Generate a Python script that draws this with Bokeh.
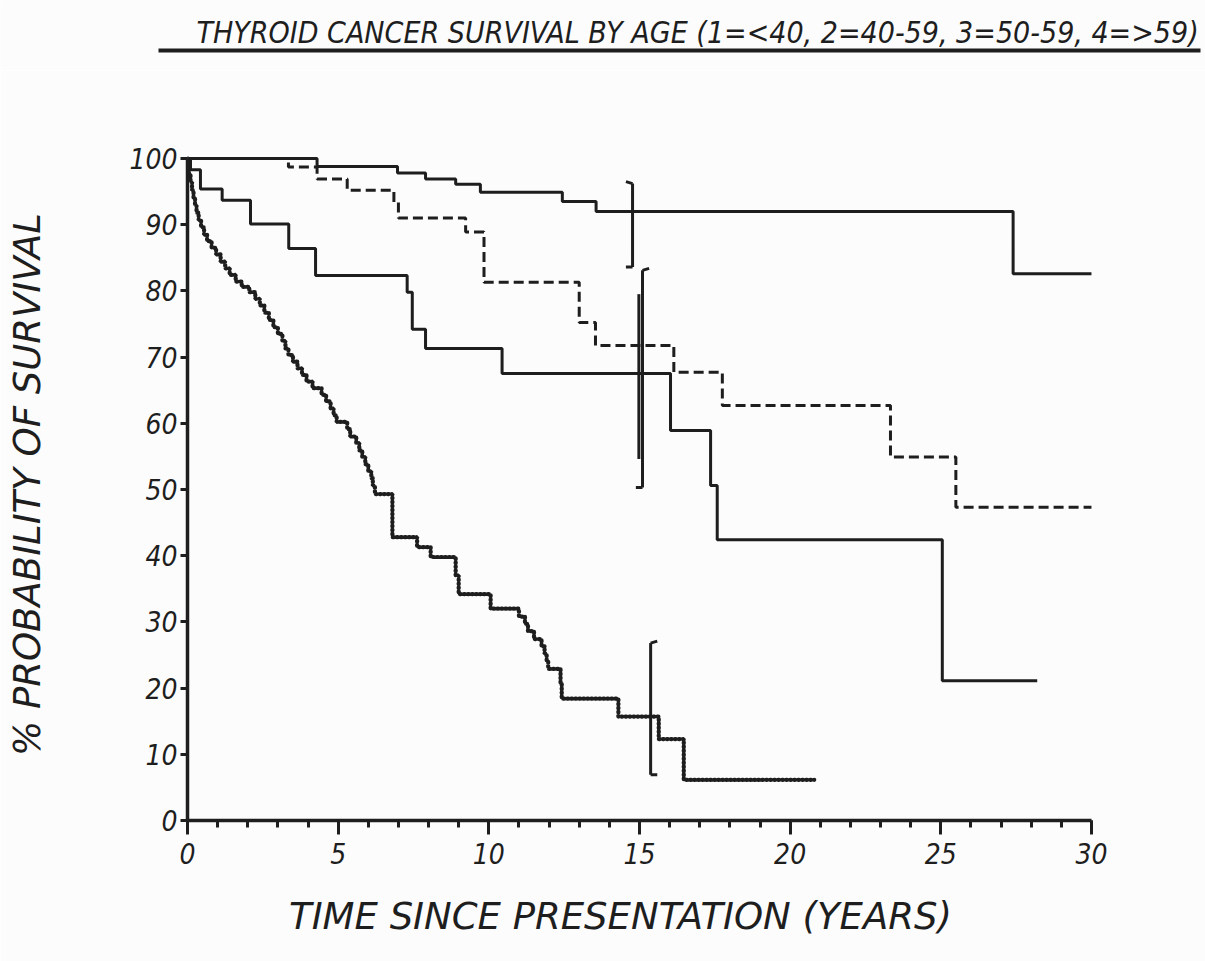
from bokeh.plotting import figure
from bokeh.layouts import column
from bokeh.models import Range1d, FixedTicker, Label
from bokeh.embed import file_html
from bokeh.resources import INLINE

# Kaplan-Meier step data: survival (%) holds from each time (years) to the next
age1_t = [0, 4.3, 6.97, 7.9, 8.9, 9.72, 12.44, 13.56, 27.4, 30.0]
age1_s = [100, 98.8, 97.8, 96.9, 96.1, 94.9, 93.5, 92.0, 82.6, 82.6]

age2_t = [0, 3.35, 4.3, 5.3, 6.85, 7.0, 9.23, 9.84, 13.0, 13.54, 16.14, 17.75, 23.33, 25.5, 30.0]
age2_s = [100, 98.7, 96.9, 95.2, 93.4, 91.0, 88.9, 81.3, 75.2, 71.75, 67.7, 62.7, 54.9, 47.3, 47.3]

age3_t = [0, 0.1, 0.43, 1.15, 2.09, 3.36, 4.25, 7.29, 7.46, 7.9, 10.44, 16.03, 17.36, 17.58, 25.05, 28.2]
age3_s = [100, 98.3, 95.4, 93.7, 90.1, 86.4, 82.3, 79.8, 74.2, 71.3, 67.5, 58.9, 50.6, 42.4, 21.1, 21.1]

age4_t = [0, 0.02, 0.05, 0.1, 0.15, 0.2, 0.25, 0.3, 0.37, 0.45, 0.55, 0.65, 0.8, 0.95,
          1.1, 1.25, 1.4, 1.6, 1.8, 2.05, 2.25, 2.4, 2.55, 2.7, 2.85, 3.0, 3.15, 3.25,
          3.35, 3.5, 3.65, 3.8, 3.95, 4.15, 4.45, 4.6, 4.75, 4.85, 4.95, 5.3, 5.4, 5.6,
          5.7, 5.8, 5.9, 6.0, 6.1, 6.15, 6.22, 6.8, 7.62, 8.07, 8.9, 9.0, 10.06, 11.0,
          11.2, 11.3, 11.5, 11.75, 11.85, 11.92, 11.97, 12.38, 12.42, 14.3, 15.64, 16.47,
          20.8]
age4_s = [100, 98.8, 97.6, 96.4, 95.2, 94.0, 92.9, 91.8, 90.7, 89.6, 88.5, 87.5, 86.5, 85.5,
          84.4, 83.4, 82.4, 81.4, 80.6, 79.8, 78.8, 77.8, 76.7, 75.6, 74.5, 73.5, 72.4, 71.3,
          70.3, 69.3, 68.3, 67.3, 66.3, 65.3, 64.3, 63.3, 62.2, 61.2, 60.2, 59.1, 58.0, 57.0,
          55.9, 54.9, 53.8, 52.7, 51.7, 50.6, 49.3, 42.8, 41.3, 39.8, 37.0, 34.2, 32.0, 30.8,
          29.7, 28.6, 27.4, 26.3, 25.2, 24.0, 22.9, 20.6, 18.4, 15.7, 12.3, 6.15,
          6.15]

# confidence intervals at 15 years (age 1, age 2, age 3, age 4)
ci_t = [14.77, 15.1, 14.98, 15.37]
ci_lo = [83.6, 50.3, 54.6, 6.9]
ci_hi = [96.2, 83.1, 79.5, 26.8]

x_ticks = [0, 5, 10, 15, 20, 25, 30]
x_minor = list(range(0, 31))
y_ticks = [0, 10, 20, 30, 40, 50, 60, 70, 80, 90, 100]

title_text = "THYROID CANCER SURVIVAL BY AGE (1=<40, 2=40-59, 3=50-59, 4=>59)"
x_title = "TIME SINCE PRESENTATION (YEARS)"
y_title = "% PROBABILITY OF SURVIVAL"

INK = "#1e1e1e"
PAPER = "#fcfcfc"
NARROW = "DejaVu Sans Condensed"
WIDE = "DejaVu Sans"
HEAD_H = 70

# heading strip: a bare canvas in pixel coordinates
head = figure(width=1205, height=HEAD_H, output_backend="svg", toolbar_location=None,
              x_range=Range1d(0, 1205), y_range=Range1d(0, HEAD_H),
              x_axis_type=None, y_axis_type=None, min_border=0)
head.frame_align = False
head.background_fill_color = PAPER
head.border_fill_color = PAPER
head.outline_line_color = None
head.grid.visible = False
head.add_layout(Label(x=196, y=HEAD_H - 32, text=title_text, text_font=NARROW,
                      text_font_style="italic", text_font_size="30px",
                      text_color=INK, text_baseline="alphabetic"))
head.segment(x0=[158], y0=[HEAD_H - 50], x1=[1200], y1=[HEAD_H - 50],
             line_color=INK, line_width=4)

p = figure(width=1205, height=961 - HEAD_H, output_backend="svg", toolbar_location=None,
           x_range=Range1d(0, 30.3), y_range=Range1d(0, 101.5),
           min_border_left=187, min_border_right=105,
           min_border_top=148 - HEAD_H, min_border_bottom=141)
p.frame_align = False
p.background_fill_color = PAPER
p.border_fill_color = PAPER
p.outline_line_color = None
p.grid.visible = False

# axes
xa = p.xaxis[0]
xa.ticker = FixedTicker(ticks=x_ticks, minor_ticks=x_minor)
xa.bounds = (0, 30)
xa.axis_line_width = 3.5
xa.axis_line_color = INK
xa.major_tick_line_width = 3
xa.major_tick_line_color = INK
xa.major_tick_in = 0
xa.major_tick_out = 14
xa.minor_tick_line_width = 3
xa.minor_tick_line_color = INK
xa.minor_tick_in = 0
xa.minor_tick_out = 7
xa.major_label_standoff = 8
xa.major_label_text_font = NARROW
xa.major_label_text_font_style = "italic"
xa.major_label_text_font_size = "28px"
xa.major_label_text_color = INK
xa.axis_label = x_title + "\u00a0" * 4
xa.axis_label_text_font = WIDE
xa.axis_label_text_font_style = "italic"
xa.axis_label_text_font_size = "37px"
xa.axis_label_text_color = INK
xa.axis_label_standoff = 28

ya = p.yaxis[0]
ya.ticker = FixedTicker(ticks=y_ticks, minor_ticks=[])
ya.bounds = (0, 100)
ya.axis_line_width = 3.5
ya.axis_line_color = INK
ya.major_tick_line_width = 3
ya.major_tick_line_color = INK
ya.major_tick_in = 0
ya.major_tick_out = 7
ya.minor_tick_out = 0
ya.major_label_standoff = 3
ya.major_label_text_font = NARROW
ya.major_label_text_font_style = "italic"
ya.major_label_text_font_size = "28px"
ya.major_label_text_color = INK
ya.axis_label = y_title
ya.axis_label_text_font = WIDE
ya.axis_label_text_font_style = "italic"
ya.axis_label_text_font_size = "37px"
ya.axis_label_text_color = INK
ya.axis_label_standoff = 77

# survival curves
p.step(age1_t, age1_s, mode="after", line_color=INK, line_width=3)
p.step(age2_t, age2_s, mode="after", line_color=INK, line_width=3, line_dash="10 5")
p.step(age3_t, age3_s, mode="after", line_color=INK, line_width=3)
p.step(age4_t, age4_s, mode="after", line_color=INK, line_width=4.2,
       line_dash="1 3", line_cap="round")

# confidence-interval brackets
foot = 0.22
feet_dir = [(-1, -1), (1, -1), (0, 0), (1, 1)]  # (top foot, bottom foot) direction
p.segment(ci_t, ci_lo, ci_t, ci_hi, line_color=INK, line_width=3)
for t, lo, hi, (dt, db) in zip(ci_t, ci_lo, ci_hi, feet_dir):
    if dt:
        p.segment([t], [hi], [t + dt * foot], [hi + 0.3], line_color=INK, line_width=3)
    if db:
        p.segment([t], [lo], [t + db * foot], [lo], line_color=INK, line_width=3)

open("out.html", "w").write(file_html(column(head, p, spacing=0), INLINE))
